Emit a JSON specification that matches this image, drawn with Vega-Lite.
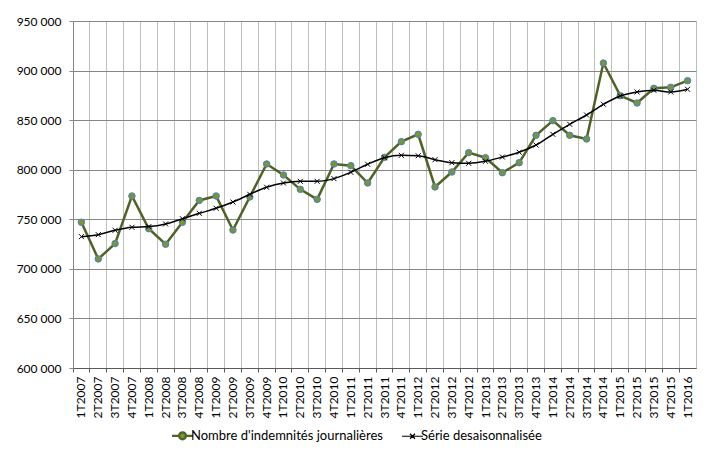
{
  "$schema": "https://vega.github.io/schema/vega-lite/v6.json",
  "width": 623,
  "height": 347,
  "autosize": {"type": "none"},
  "padding": {"left": 73, "top": 21, "right": 11, "bottom": 89},
  "background": "white",
  "config": {
    "view": {"stroke": "#BFBFBF", "strokeWidth": 1},
    "font": "Lato",
    "axis": {"labelFont": "Lato", "labelFontSize": 12, "labelColor": "#000000", "title": null}
  },
  "data": {
    "values": [
      {"q": "1T2007", "serie": "Nombre d'indemnités journalières", "v": 747000},
      {"q": "2T2007", "serie": "Nombre d'indemnités journalières", "v": 710000},
      {"q": "3T2007", "serie": "Nombre d'indemnités journalières", "v": 725500},
      {"q": "4T2007", "serie": "Nombre d'indemnités journalières", "v": 773500},
      {"q": "1T2008", "serie": "Nombre d'indemnités journalières", "v": 740500},
      {"q": "2T2008", "serie": "Nombre d'indemnités journalières", "v": 724800},
      {"q": "3T2008", "serie": "Nombre d'indemnités journalières", "v": 747000},
      {"q": "4T2008", "serie": "Nombre d'indemnités journalières", "v": 769000},
      {"q": "1T2009", "serie": "Nombre d'indemnités journalières", "v": 773500},
      {"q": "2T2009", "serie": "Nombre d'indemnités journalières", "v": 739200},
      {"q": "3T2009", "serie": "Nombre d'indemnités journalières", "v": 772500},
      {"q": "4T2009", "serie": "Nombre d'indemnités journalières", "v": 805800},
      {"q": "1T2010", "serie": "Nombre d'indemnités journalières", "v": 794700},
      {"q": "2T2010", "serie": "Nombre d'indemnités journalières", "v": 780200},
      {"q": "3T2010", "serie": "Nombre d'indemnités journalières", "v": 770100},
      {"q": "4T2010", "serie": "Nombre d'indemnités journalières", "v": 805800},
      {"q": "1T2011", "serie": "Nombre d'indemnités journalières", "v": 804100},
      {"q": "2T2011", "serie": "Nombre d'indemnités journalières", "v": 786600},
      {"q": "3T2011", "serie": "Nombre d'indemnités journalières", "v": 812500},
      {"q": "4T2011", "serie": "Nombre d'indemnités journalières", "v": 828300},
      {"q": "1T2012", "serie": "Nombre d'indemnités journalières", "v": 835700},
      {"q": "2T2012", "serie": "Nombre d'indemnités journalières", "v": 782600},
      {"q": "3T2012", "serie": "Nombre d'indemnités journalières", "v": 797700},
      {"q": "4T2012", "serie": "Nombre d'indemnités journalières", "v": 817200},
      {"q": "1T2013", "serie": "Nombre d'indemnités journalières", "v": 812100},
      {"q": "2T2013", "serie": "Nombre d'indemnités journalières", "v": 797000},
      {"q": "3T2013", "serie": "Nombre d'indemnités journalières", "v": 807100},
      {"q": "4T2013", "serie": "Nombre d'indemnités journalières", "v": 834700},
      {"q": "1T2014", "serie": "Nombre d'indemnités journalières", "v": 849500},
      {"q": "2T2014", "serie": "Nombre d'indemnités journalières", "v": 834700},
      {"q": "3T2014", "serie": "Nombre d'indemnités journalières", "v": 831000},
      {"q": "4T2014", "serie": "Nombre d'indemnités journalières", "v": 907600},
      {"q": "1T2015", "serie": "Nombre d'indemnités journalières", "v": 874700},
      {"q": "2T2015", "serie": "Nombre d'indemnités journalières", "v": 867300},
      {"q": "3T2015", "serie": "Nombre d'indemnités journalières", "v": 882100},
      {"q": "4T2015", "serie": "Nombre d'indemnités journalières", "v": 883100},
      {"q": "1T2016", "serie": "Nombre d'indemnités journalières", "v": 889800},
      {"q": "1T2007", "serie": "Série desaisonnalisée", "v": 732500},
      {"q": "2T2007", "serie": "Série desaisonnalisée", "v": 734500},
      {"q": "3T2007", "serie": "Série desaisonnalisée", "v": 738900},
      {"q": "4T2007", "serie": "Série desaisonnalisée", "v": 741900},
      {"q": "1T2008", "serie": "Série desaisonnalisée", "v": 742600},
      {"q": "2T2008", "serie": "Série desaisonnalisée", "v": 745300},
      {"q": "3T2008", "serie": "Série desaisonnalisée", "v": 750600},
      {"q": "4T2008", "serie": "Série desaisonnalisée", "v": 756000},
      {"q": "1T2009", "serie": "Série desaisonnalisée", "v": 761100},
      {"q": "2T2009", "serie": "Série desaisonnalisée", "v": 767400},
      {"q": "3T2009", "serie": "Série desaisonnalisée", "v": 775200},
      {"q": "4T2009", "serie": "Série desaisonnalisée", "v": 782300},
      {"q": "1T2010", "serie": "Série desaisonnalisée", "v": 786600},
      {"q": "2T2010", "serie": "Série desaisonnalisée", "v": 788300},
      {"q": "3T2010", "serie": "Série desaisonnalisée", "v": 788300},
      {"q": "4T2010", "serie": "Série desaisonnalisée", "v": 791000},
      {"q": "1T2011", "serie": "Série desaisonnalisée", "v": 797400},
      {"q": "2T2011", "serie": "Série desaisonnalisée", "v": 805500},
      {"q": "3T2011", "serie": "Série desaisonnalisée", "v": 812100},
      {"q": "4T2011", "serie": "Série desaisonnalisée", "v": 814500},
      {"q": "1T2012", "serie": "Série desaisonnalisée", "v": 814100},
      {"q": "2T2012", "serie": "Série desaisonnalisée", "v": 810100},
      {"q": "3T2012", "serie": "Série desaisonnalisée", "v": 807100},
      {"q": "4T2012", "serie": "Série desaisonnalisée", "v": 806500},
      {"q": "1T2013", "serie": "Série desaisonnalisée", "v": 808500},
      {"q": "2T2013", "serie": "Série desaisonnalisée", "v": 812800},
      {"q": "3T2013", "serie": "Série desaisonnalisée", "v": 817600},
      {"q": "4T2013", "serie": "Série desaisonnalisée", "v": 824900},
      {"q": "1T2014", "serie": "Série desaisonnalisée", "v": 835700},
      {"q": "2T2014", "serie": "Série desaisonnalisée", "v": 845800},
      {"q": "3T2014", "serie": "Série desaisonnalisée", "v": 855200},
      {"q": "4T2014", "serie": "Série desaisonnalisée", "v": 866000},
      {"q": "1T2015", "serie": "Série desaisonnalisée", "v": 874400},
      {"q": "2T2015", "serie": "Série desaisonnalisée", "v": 878400},
      {"q": "3T2015", "serie": "Série desaisonnalisée", "v": 880100},
      {"q": "4T2015", "serie": "Série desaisonnalisée", "v": 878400},
      {"q": "1T2016", "serie": "Série desaisonnalisée", "v": 881100}
    ]
  },
  "encoding": {
    "x": {
      "field": "q",
      "type": "ordinal",
      "sort": null,
      "scale": {"type": "band", "paddingInner": 0, "paddingOuter": 0},
      "axis": {
        "bandPosition": 0,
        "labelAngle": -90,
        "labelPadding": 4,
        "grid": true,
        "gridColor": "#BFBFBF",
        "gridWidth": 1,
        "tickColor": "#595959",
        "tickSize": 4,
        "domainColor": "#595959"
      }
    },
    "y": {
      "field": "v",
      "type": "quantitative",
      "scale": {"domain": [600000, 950000], "nice": false, "zero": false},
      "axis": {
        "values": [600000, 650000, 700000, 750000, 800000, 850000, 900000, 950000],
        "labelExpr": "replace(datum.label, ',', ' ')",
        "grid": true,
        "gridColor": "#868686",
        "domainColor": "#868686",
        "tickColor": "#868686",
        "tickSize": 4,
        "labelPadding": 8
      }
    }
  },
  "layer": [
    {
      "transform": [{"filter": {"field": "serie", "equal": "Nombre d'indemnités journalières"}}],
      "mark": {"type": "line", "strokeWidth": 2.5},
      "encoding": {
        "color": {
          "field": "serie",
          "type": "nominal",
          "scale": {"domain": ["Nombre d'indemnités journalières", "Série desaisonnalisée"], "range": ["#4F6228", "#000000"]},
          "legend": {
            "orient": "none",
            "legendX": 103,
            "legendY": 408,
            "direction": "horizontal",
            "title": null,
            "symbolSize": 441,
            "labelFont": "Lato",
            "labelFontSize": 13,
            "labelColor": "#000000",
            "labelLimit": 0,
            "labelOffset": 2,
            "columnPadding": 16,
            "padding": 0,
            "encode": {
              "symbols": {
                "update": {
                  "shape": {"signal": "datum.value == 'Série desaisonnalisée' ? 'M-1,0L1,0M-0.24,-0.24L0.24,0.24M-0.24,0.24L0.24,-0.24' : 'M-1,0L-0.33,0M0.33,0L1,0M-0.33,0A0.33,0.33,0,1,1,0.33,0A0.33,0.33,0,1,1,-0.33,0Z'"},
                  "fill": {"signal": "datum.value == 'Série desaisonnalisée' ? 'transparent' : '#77933C'"},
                  "stroke": {"signal": "datum.value == 'Série desaisonnalisée' ? '#000000' : '#4F6228'"},
                  "strokeWidth": {"signal": "datum.value == 'Série desaisonnalisée' ? 1.2 : 2.2"}
                }
              }
            }
          }
        }
      }
    },
    {
      "transform": [{"filter": {"field": "serie", "equal": "Nombre d'indemnités journalières"}}],
      "mark": {"type": "point", "shape": "circle", "filled": true, "fill": "#77933C", "stroke": "#4F81BD", "strokeWidth": 1, "size": 42, "opacity": 1}
    },
    {
      "transform": [{"filter": {"field": "serie", "equal": "Série desaisonnalisée"}}],
      "mark": {"type": "line", "strokeWidth": 1.5, "interpolate": "monotone"},
      "encoding": {
        "color": {
          "field": "serie",
          "type": "nominal",
          "scale": {"domain": ["Nombre d'indemnités journalières", "Série desaisonnalisée"], "range": ["#4F6228", "#000000"]}
        }
      }
    },
    {
      "transform": [{"filter": {"field": "serie", "equal": "Série desaisonnalisée"}}],
      "mark": {"type": "point", "shape": "M-1,-1L1,1M-1,1L1,-1", "filled": false, "stroke": "#000000", "strokeWidth": 1, "size": 25, "opacity": 1}
    }
  ]
}
